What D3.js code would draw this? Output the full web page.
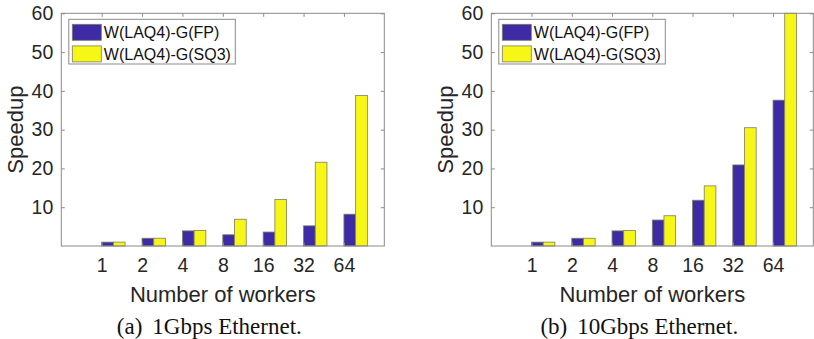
<!DOCTYPE html>
<html>
<head>
<meta charset="utf-8">
<script src="https://cdn.jsdelivr.net/npm/d3@7"></script>
<style>
  body { margin: 0; background: #fff; }
  svg { display: block; }
</style>
</head>
<body>
<svg id="chart" width="814" height="339"></svg>
<script>
// data
var workers = ["1", "2", "4", "8", "16", "32", "64"];
var seriesNames = ["W(LAQ4)-G(FP)", "W(LAQ4)-G(SQ3)"];
var fp1G = [1.0, 2.0, 3.9, 2.9, 3.6, 5.2, 8.2];
var sq1G = [1.0, 2.0, 4.0, 6.9, 12.0, 21.6, 38.8];
var fp10G = [1.0, 2.0, 3.9, 6.7, 11.8, 20.9, 37.6];
var sq10G = [1.0, 2.0, 4.0, 7.8, 15.5, 30.5, 60.0];
var yTicks = [10, 20, 30, 40, 50, 60];
var captions = [["(a)", "1Gbps Ethernet."], ["(b)", "10Gbps Ethernet."]];

var colors = ["#3d2ba6", "#f7f717"];
var sans = "'Liberation Sans', Arial, sans-serif";
var svg = d3.select("#chart");

var panels = [
    { left: 61.3, right: 384.3, fp: fp1G, sq: sq1G, caption: captions[0] },
    { left: 491.3, right: 813.3, fp: fp10G, sq: sq10G, caption: captions[1] }
];

var plotTop = 13.3, plotBottom = 246;
var barW = 0.29; // in category units

panels.forEach(function (p) {
    var g = svg.append("g");

    var x = d3.scaleLinear().domain([0, workers.length + 1]).range([p.left, p.right]);
    var y = d3.scaleLinear().domain([0, 60]).range([plotBottom, plotTop]);

    var rows = workers.map((w, i) => ({ k: i + 1, vals: [p.fp[i], p.sq[i]] }));

    // bars
    rows.forEach(function (r) {
        g.selectAll(null)
            .data(r.vals)
            .enter()
            .append("rect")
            .attr("x", (d, j) => x(r.k + j * barW))
            .attr("width", (d) => x(barW) - x(0))
            .attr("y", (d) => y(d))
            .attr("height", (d) => y(0) - y(d))
            .style("fill", (d, j) => colors[j])
            .style("stroke", "#7d7d62")
            .style("stroke-width", 0.8);
    });

    // axes, ticks pointing in
    var tickVals = workers.map((w, i) => i + 1);
    var axStyle = function (sel) {
        sel.select(".domain").remove();
        sel.selectAll("line").style("stroke", "#8a8a8a");
        sel.selectAll("text")
            .style("font-family", sans)
            .style("font-size", "19.5px")
            .style("fill", "#262626");
    };

    g.append("g").attr("transform", "translate(0," + plotBottom + ")")
        .call(d3.axisBottom(x).tickValues(tickVals).tickFormat((d) => workers[d - 1])
            .tickSizeInner(-3.5).tickSizeOuter(0).tickPadding(12.5))
        .call(axStyle);
    g.append("g").attr("transform", "translate(0," + plotTop + ")")
        .call(d3.axisTop(x).tickValues(tickVals).tickFormat("").tickSizeInner(-3.5).tickSizeOuter(0))
        .call(axStyle);
    g.append("g").attr("transform", "translate(" + p.left + ",0)")
        .call(d3.axisLeft(y).tickValues(yTicks).tickSizeInner(-3.5).tickSizeOuter(0).tickPadding(8))
        .call(axStyle);
    g.append("g").attr("transform", "translate(" + p.right + ",0)")
        .call(d3.axisRight(y).tickValues(yTicks).tickFormat("").tickSizeInner(-3.5).tickSizeOuter(0))
        .call(axStyle);

    // box
    g.append("rect")
        .attr("x", p.left).attr("y", plotTop)
        .attr("width", p.right - p.left).attr("height", plotBottom - plotTop)
        .style("fill", "none").style("stroke", "#8a8a8a").style("stroke-width", 1);

    // axis titles
    g.append("text")
        .attr("x", (p.left + p.right) / 2).attr("y", 301.5)
        .attr("text-anchor", "middle")
        .style("font-family", sans)
        .style("font-size", "22px").style("fill", "#262626")
        .text("Number of workers");
    g.append("text")
        .attr("transform", "translate(" + (p.left - 38.3) + "," + ((plotTop + plotBottom) / 2) + ") rotate(-90)")
        .attr("text-anchor", "middle")
        .style("font-family", sans)
        .style("font-size", "22px").style("fill", "#262626")
        .text("Speedup");

    // legend
    var lx = p.left + 7.5, ly = 19.3;
    var leg = g.append("g");
    leg.append("rect")
        .attr("x", lx).attr("y", ly).attr("width", 166.5).attr("height", 44.7)
        .style("fill", "#fff").style("stroke", "#8a8a8a").style("stroke-width", 1);
    seriesNames.forEach(function (name, j) {
        leg.append("rect")
            .attr("x", lx + 3.5).attr("y", ly + 5 + j * 21.6)
            .attr("width", 29).attr("height", 16)
            .style("fill", colors[j]).style("stroke", "#7d7d62").style("stroke-width", 0.8);
        leg.append("text")
            .attr("x", lx + 35).attr("y", ly + 19 + j * 21.6)
            .style("font-family", sans)
            .style("font-size", "16px").style("fill", "#111")
            .text(name);
    });

    // caption
    var cap = g.append("text")
        .attr("x", p.left + 148).attr("y", 334)
        .attr("text-anchor", "middle")
        .style("font-family", "'Liberation Serif', 'Times New Roman', serif")
        .style("font-size", "23px").style("fill", "#111");
    cap.append("tspan").text(p.caption[0]);
    cap.append("tspan").attr("dx", 10).text(p.caption[1]);
});
</script>
</body>
</html>
